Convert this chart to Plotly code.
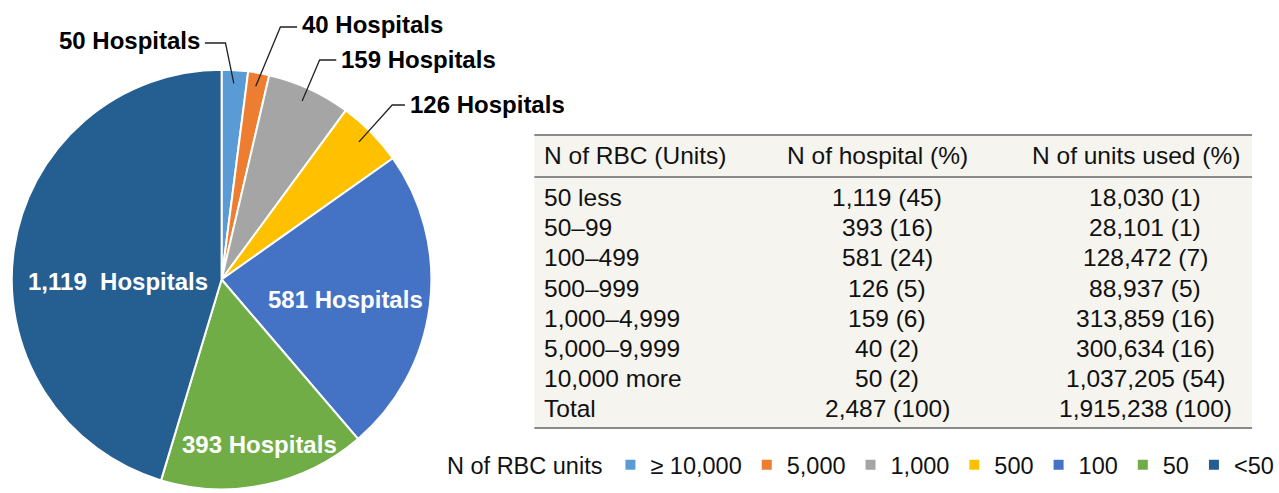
import math
import plotly.graph_objects as go

# ---------------- data ----------------
legend_labels = ["≥ 10,000", "5,000", "1,000", "500", "100", "50", "<50"]
hospitals = [50, 40, 159, 126, 581, 393, 1119]
slice_colors = ["#5B9BD5", "#ED7D31", "#A5A5A5", "#FFC000", "#4472C4", "#70AD47", "#255E91"]

table_header = ["N of RBC (Units)", "N of hospital (%)", "N of units used (%)"]
table_cats = ["50 less", "50–99", "100–499", "500–999", "1,000–4,999",
              "5,000–9,999", "10,000 more", "Total"]
hosp_n = [1119, 393, 581, 126, 159, 40, 50, 2487]
hosp_pct = [45, 16, 24, 5, 6, 2, 2, 100]
units_n = [18030, 28101, 128472, 88937, 313859, 300634, 1037205, 1915238]
units_pct = [1, 1, 7, 5, 16, 16, 54, 100]

W, H = 1279, 493
def X(px):
    return px / W
def Y(py):
    return 1 - py / H

FONT = "Liberation Sans, Arial, sans-serif"

# pie geometry (pixels)
pie_x0, pie_x1 = 12, 440
pie_top = 66
cx = (pie_x0 + pie_x1) / 2
R = (H - pie_top) / 2
cy = H - R

fig = go.Figure()
fig.add_trace(go.Pie(
    labels=legend_labels,
    values=hospitals,
    sort=False,
    direction="clockwise",
    rotation=0,
    marker=dict(colors=slice_colors, line=dict(color="white", width=2)),
    textinfo="none",
    hoverinfo="label+value",
    domain=dict(x=[X(pie_x0), X(pie_x1)], y=[0, Y(pie_top)]),
    showlegend=True,
))

annotations = []
shapes = []

# ---- pie labels ----
total = sum(hospitals)
cum = 0
mid_angles = []
for v in hospitals:
    mid_angles.append((cum + v / 2) / total * 2 * math.pi)
    cum += v

def label(v):
    return f"{v:,}  Hospitals" if v >= 1000 else f"{v:,} Hospitals"

LFS = 24
# outside labels with elbow leader lines: (index, text x, text y, anchor, line y, elbow x)
outside = [
    (0, 206, 40, "right", 43, 230),
    (1, 306, 25, "left", 27, 286),
    (2, 346, 60, "left", 60, 326),
    (3, 416, 104, "left", 105, 400),
]
for idx, tx, ty, anchor, ly, ex in outside:
    a = mid_angles[idx]
    f = 0.92
    px = cx + f * R * math.sin(a)
    py = cy - f * R * math.cos(a)
    annotations.append(dict(
        x=X(tx), y=Y(ty), xref="paper", yref="paper",
        text=f"<b>{label(hospitals[idx])}</b>", showarrow=False,
        xanchor=anchor, yanchor="middle",
        font=dict(family=FONT, size=LFS, color="black"),
    ))
    sx = tx + 3 if anchor == "right" else tx - 3
    shapes.append(dict(
        type="path", xref="paper", yref="paper",
        path=f"M {X(sx)},{Y(ly)} L {X(ex)},{Y(ly)} L {X(px)},{Y(py)}",
        line=dict(color="#222", width=1.3),
    ))

inside = [(6, 120, 281), (4, 352, 299), (5, 265, 444)]
for idx, tx, ty in inside:
    annotations.append(dict(
        x=X(tx), y=Y(ty), xref="paper", yref="paper",
        text=f"<b>{label(hospitals[idx])}</b>", showarrow=False,
        xanchor="center", yanchor="middle",
        font=dict(family=FONT, size=LFS, color="white"),
    ))

# ---- table ----
tbl_x0, tbl_x1 = 545, 1277
tbl_top, tbl_head, tbl_bot = 135, 177, 428
shapes.append(dict(type="rect", xref="paper", yref="paper",
                   x0=X(tbl_x0), x1=X(tbl_x1), y0=Y(tbl_bot), y1=Y(tbl_top),
                   fillcolor="#F5F4EE", line=dict(width=0), layer="below"))
for yy in (tbl_top, tbl_head, tbl_bot):
    shapes.append(dict(type="line", xref="paper", yref="paper",
                       x0=X(tbl_x0), x1=X(tbl_x1), y0=Y(yy), y1=Y(yy),
                       line=dict(color="#8A8A8A", width=2)))

TFS = 24.5
TCOL = "#111"
col1_x = 553
hdr_cx = [None, 895, 1159]
col_cx = [None, 905, 1168]
hdr_y = 156
row_y0, row_dy = 197.5, 30.17

annotations.append(dict(x=X(col1_x), y=Y(hdr_y), xref="paper", yref="paper",
                        text=table_header[0], showarrow=False, xanchor="left",
                        yanchor="middle", font=dict(family=FONT, size=TFS, color=TCOL)))
for j in (1, 2):
    annotations.append(dict(x=X(hdr_cx[j]), y=Y(hdr_y), xref="paper", yref="paper",
                            text=table_header[j], showarrow=False, xanchor="center",
                            yanchor="middle", font=dict(family=FONT, size=TFS, color=TCOL)))

for i, cat in enumerate(table_cats):
    yy = row_y0 + i * row_dy
    cells = [cat, f"{hosp_n[i]:,} ({hosp_pct[i]})", f"{units_n[i]:,} ({units_pct[i]})"]
    annotations.append(dict(x=X(col1_x), y=Y(yy), xref="paper", yref="paper",
                            text=cells[0], showarrow=False, xanchor="left",
                            yanchor="middle", font=dict(family=FONT, size=TFS, color=TCOL)))
    for j in (1, 2):
        annotations.append(dict(x=X(col_cx[j]), y=Y(yy), xref="paper", yref="paper",
                                text=cells[j], showarrow=False, xanchor="center",
                                yanchor="middle", font=dict(family=FONT, size=TFS, color=TCOL)))

fig.update_layout(
    width=W, height=H,
    margin=dict(l=0, r=0, t=0, b=0),
    paper_bgcolor="white", plot_bgcolor="white",
    annotations=annotations,
    shapes=shapes,
    legend=dict(
        orientation="h",
        x=X(454), xanchor="left",
        y=Y(465), yanchor="middle",
        title=dict(text="N of RBC units", side="left",
                   font=dict(family=FONT, size=23.5, color=TCOL)),
        font=dict(family=FONT, size=23.5, color=TCOL),
        traceorder="normal",
        bgcolor="rgba(0,0,0,0)",
    ),
)

fig.write_html(
    "out.html",
    config={"displayModeBar": False},
    post_script="document.body.style.margin='0';document.body.style.overflow='hidden';",
)
